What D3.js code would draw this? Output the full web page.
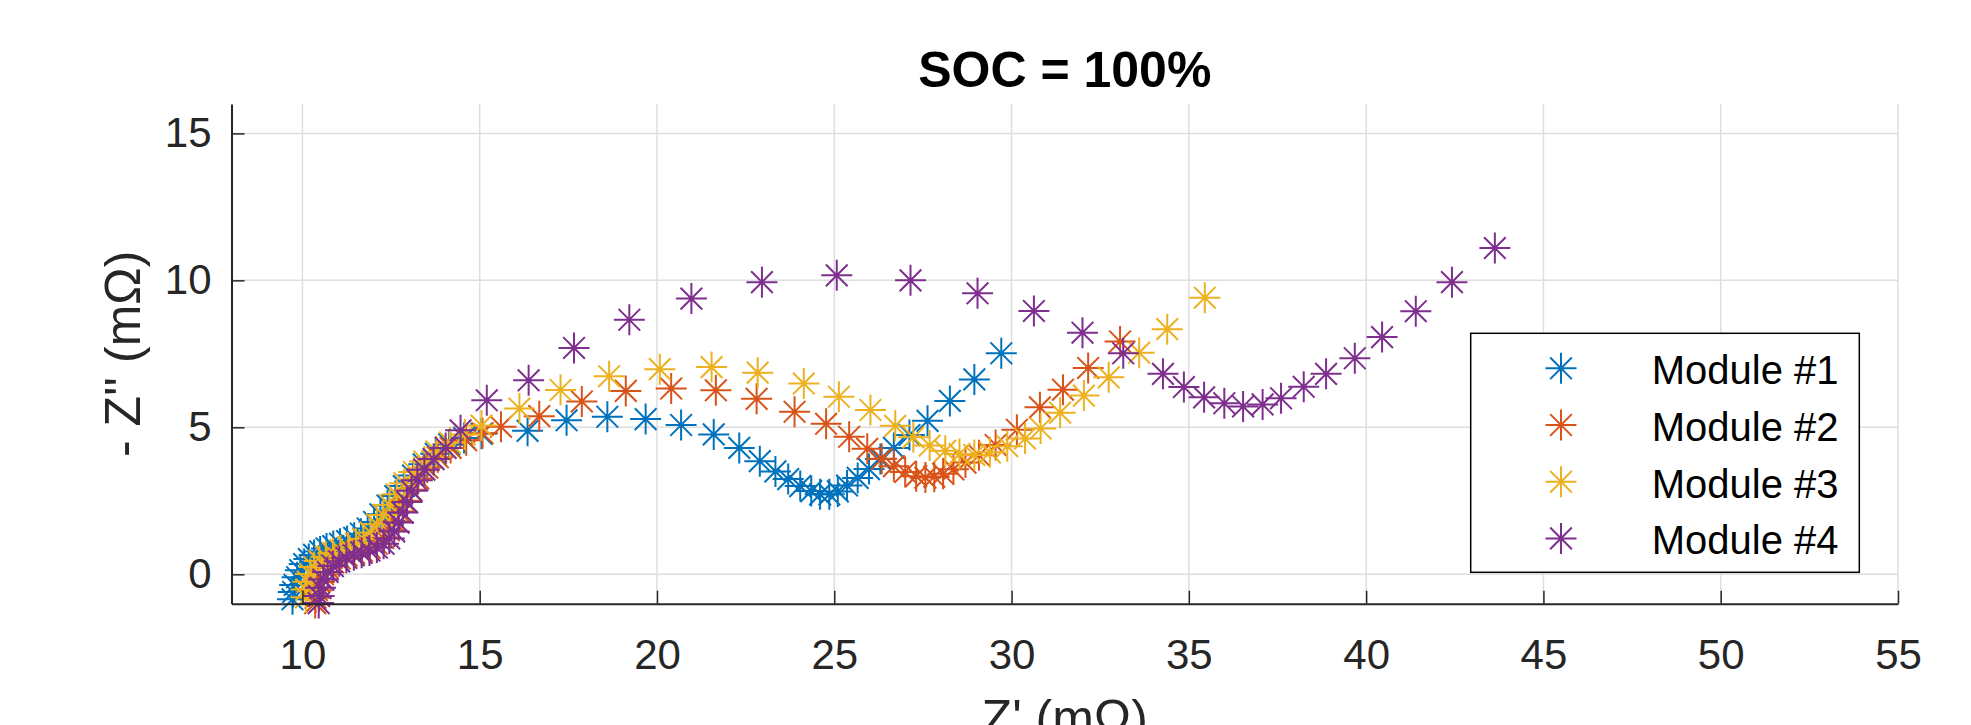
<!DOCTYPE html>
<html>
<head>
<meta charset="utf-8">
<script src="https://cdn.jsdelivr.net/npm/d3@7/dist/d3.min.js"></script>
<style>
  body { margin: 0; background: #fff; }
  text { font-family: "Liberation Sans", Arial, sans-serif; }
</style>
</head>
<body>
<script>
// Data (Z' and -Z'' in mOhm)
var module1 = [
    [9.72,-0.85],[9.74,-0.6],[9.78,-0.36],[9.85,-0.1],[9.94,0.14],[10.05,0.35],[10.18,0.52],
    [10.33,0.66],[10.5,0.78],[10.68,0.88],[10.87,0.96],[11.06,1.04],[11.26,1.13],[11.46,1.24],
    [11.65,1.38],[11.84,1.56],[12.02,1.78],[12.2,2.04],[12.4,2.34],[12.62,2.66],[12.86,3.0],
    [13.12,3.36],[13.42,3.74],[13.76,4.1],[14.14,4.42],[14.56,4.64],[15.05,4.78],[16.35,4.88],
    [17.45,5.24],[18.6,5.36],[19.68,5.28],[20.68,5.08],[21.6,4.76],[22.32,4.3],[22.9,3.85],
    [23.34,3.5],[23.7,3.24],[24.04,3.0],[24.35,2.83],[24.6,2.72],[24.86,2.72],[25.1,2.82],
    [25.36,3.02],[25.66,3.28],[25.98,3.58],[26.3,3.92],[26.68,4.3],[27.12,4.74],[27.63,5.22],
    [28.26,5.9],[28.95,6.63],[29.71,7.52]
];
var module2 = [
    [10.36,-0.98],[10.37,-0.8],[10.41,-0.54],[10.48,-0.26],[10.58,0.0],[10.71,0.22],[10.87,0.4],
    [11.05,0.54],[11.25,0.64],[11.46,0.72],[11.68,0.8],[11.9,0.9],[12.1,1.04],[12.28,1.24],
    [12.44,1.5],[12.58,1.8],[12.72,2.14],[12.88,2.5],[13.06,2.88],[13.27,3.26],[13.52,3.63],
    [13.82,3.98],[14.18,4.3],[14.62,4.56],[15.08,4.8],[15.6,5.02],[16.68,5.38],[17.88,5.88],
    [19.12,6.24],[20.4,6.32],[21.66,6.26],[22.81,5.97],[23.88,5.53],[24.77,5.12],[25.42,4.68],
    [25.93,4.27],[26.34,3.93],[26.68,3.68],[27.0,3.48],[27.31,3.34],[27.57,3.29],[27.82,3.32],
    [28.07,3.42],[28.36,3.57],[28.7,3.8],[29.08,4.05],[29.55,4.4],[30.15,4.92],[30.8,5.68],
    [31.45,6.28],[32.16,7.02],[33.06,7.92]
];
var module3 = [
    [10.1,-0.78],[10.11,-0.52],[10.15,-0.25],[10.22,0.01],[10.33,0.25],[10.48,0.45],[10.66,0.6],
    [10.86,0.72],[11.07,0.82],[11.29,0.92],[11.51,1.04],[11.72,1.2],[11.92,1.42],[12.1,1.7],
    [12.28,2.02],[12.46,2.36],[12.66,2.72],[12.88,3.1],[13.14,3.48],[13.44,3.84],[13.78,4.18],
    [14.16,4.48],[14.58,4.76],[15.05,5.06],[16.12,5.64],[17.28,6.27],[18.65,6.74],[20.08,6.98],
    [21.54,7.05],[22.84,6.86],[24.14,6.49],[25.13,6.04],[26.02,5.59],[26.72,5.05],[27.23,4.66],
    [27.69,4.38],[28.13,4.2],[28.53,4.09],[28.95,4.06],[29.39,4.15],[29.88,4.36],[30.38,4.62],
    [30.82,4.96],[31.37,5.5],[32.04,6.08],[32.74,6.7],[33.6,7.54],[34.39,8.34],[35.45,9.41]
];
var module4 = [
    [10.46,-0.98],[10.47,-0.74],[10.51,-0.46],[10.59,-0.18],[10.71,0.08],[10.86,0.28],[11.04,0.44],
    [11.24,0.56],[11.45,0.65],[11.67,0.73],[11.89,0.81],[12.1,0.91],[12.29,1.04],[12.45,1.22],
    [12.59,1.46],[12.71,1.76],[12.83,2.1],[12.95,2.46],[13.08,2.84],[13.24,3.2],[13.44,3.56],
    [13.7,3.92],[14.04,4.3],[14.46,4.9],[15.2,5.92],[16.38,6.6],[17.66,7.7],[19.22,8.66],
    [20.97,9.38],[22.96,9.94],[25.07,10.17],[27.15,10.0],[29.04,9.56],[30.63,8.96],[32.0,8.22],
    [33.15,7.52],[34.27,6.82],[34.86,6.37],[35.43,6.02],[36.0,5.82],[36.53,5.71],[37.08,5.78],
    [37.6,5.99],[38.24,6.38],[38.87,6.82],[39.68,7.35],[40.45,8.07],[41.4,8.95],[42.42,9.94],
    [43.63,11.1]
];

var seriesNames = ["Module #1", "Module #2", "Module #3", "Module #4"];
var seriesColors = ["#0072BD", "#D95319", "#EDB120", "#7E2F8E"];
var xTicks = [10, 15, 20, 25, 30, 35, 40, 45, 50, 55];
var yTicks = [0, 5, 10, 15];
var xDomain = [8, 55];
var yDomain = [-1, 16];

var allSeries = [module1, module2, module3, module4];

var width = 1971;
var height = 725;
var plotLeft = 231.5, plotRight = 1898, plotTop = 104, plotBottom = 603.7;

var svg = d3.select("body")
        .append("svg")
        .attr("width", width)
        .attr("height", height);

var x = d3.scaleLinear().domain(xDomain).range([plotLeft, plotRight]);
var y = d3.scaleLinear().domain(yDomain).range([plotBottom, plotTop]);

// grid
svg.append("g").selectAll("line")
        .data(xTicks)
        .join("line")
        .attr("x1", function(d) { return x(d); })
        .attr("x2", function(d) { return x(d); })
        .attr("y1", plotTop)
        .attr("y2", plotBottom)
        .attr("stroke", "#dedede")
        .attr("stroke-width", 1.5);

svg.append("g").selectAll("line")
        .data(yTicks)
        .join("line")
        .attr("x1", plotLeft)
        .attr("x2", plotRight)
        .attr("y1", function(d) { return y(d); })
        .attr("y2", function(d) { return y(d); })
        .attr("stroke", "#dedede")
        .attr("stroke-width", 1.5);

// '*' marker like matlab
function starPath(r) {
    var d = r * 0.7;
    return "M" + (-r) + ",0L" + r + ",0" +
           "M0," + (-r) + "L0," + r +
           "M" + (-d) + "," + (-d) + "L" + d + "," + d +
           "M" + (-d) + "," + d + "L" + d + "," + (-d);
}
var markerR = 15.5;

allSeries.forEach(function(series, i) {
    svg.append("g").selectAll("path")
            .data(series)
            .join("path")
            .attr("d", starPath(markerR))
            .attr("transform", function(d) {
                return "translate(" + x(d[0]) + "," + y(d[1]) + ")";
            })
            .attr("fill", "none")
            .attr("stroke", seriesColors[i])
            .attr("stroke-width", 2);
});

// axes
var xAxis = svg.append("g")
        .attr("transform", "translate(0," + plotBottom + ")")
        .call(d3.axisBottom(x).tickValues(xTicks).tickSizeInner(-13).tickSizeOuter(0).tickPadding(35));

var yAxis = svg.append("g")
        .attr("transform", "translate(" + plotLeft + ",0)")
        .call(d3.axisLeft(y).tickValues(yTicks).tickSizeInner(-13).tickSizeOuter(0).tickPadding(20));

[xAxis, yAxis].forEach(function(ax) {
    ax.select(".domain").attr("stroke", "#262626").attr("stroke-width", 2);
    ax.selectAll(".tick line").attr("stroke", "#262626").attr("stroke-width", 1.5);
    ax.selectAll(".tick text")
            .attr("fill", "#262626")
            .style("font-size", "42px")
            .style("font-family", "'Liberation Sans', Arial, sans-serif");
});

// title and labels
svg.append("text")
        .attr("x", (plotLeft + plotRight) / 2)
        .attr("y", 87)
        .attr("text-anchor", "middle")
        .style("font-size", "50px")
        .style("font-weight", "bold")
        .attr("fill", "#000")
        .text("SOC = 100%");

svg.append("text")
        .attr("transform", "translate(140," + ((plotTop + plotBottom) / 2) + ") rotate(-90)")
        .attr("text-anchor", "middle")
        .style("font-size", "50px")
        .attr("fill", "#262626")
        .text("- Z'' (mΩ)");

// x label sits partly below the bottom edge, as in the source image
svg.append("text")
        .attr("x", (plotLeft + plotRight) / 2)
        .attr("y", 735)
        .attr("text-anchor", "middle")
        .style("font-size", "50px")
        .attr("fill", "#262626")
        .text("Z' (mΩ)");

// legend
var legend = svg.append("g");
legend.append("rect")
        .attr("x", 1470.7)
        .attr("y", 333.3)
        .attr("width", 388.6)
        .attr("height", 239)
        .attr("fill", "#fff")
        .attr("stroke", "#000")
        .attr("stroke-width", 1.5);

var rows = legend.selectAll("g.row")
        .data(seriesNames)
        .join("g")
        .attr("class", "row")
        .attr("transform", function(d, i) {
            return "translate(0," + (368.3 + i * 56.7) + ")";
        });

rows.append("path")
        .attr("d", starPath(markerR))
        .attr("transform", "translate(1561,0)")
        .attr("fill", "none")
        .attr("stroke", function(d, i) { return seriesColors[i]; })
        .attr("stroke-width", 2);

rows.append("text")
        .attr("x", 1651.7)
        .attr("dy", "0.4em")
        .style("font-size", "40px")
        .attr("fill", "#000")
        .text(function(d) { return d; });
</script>
</body>
</html>
